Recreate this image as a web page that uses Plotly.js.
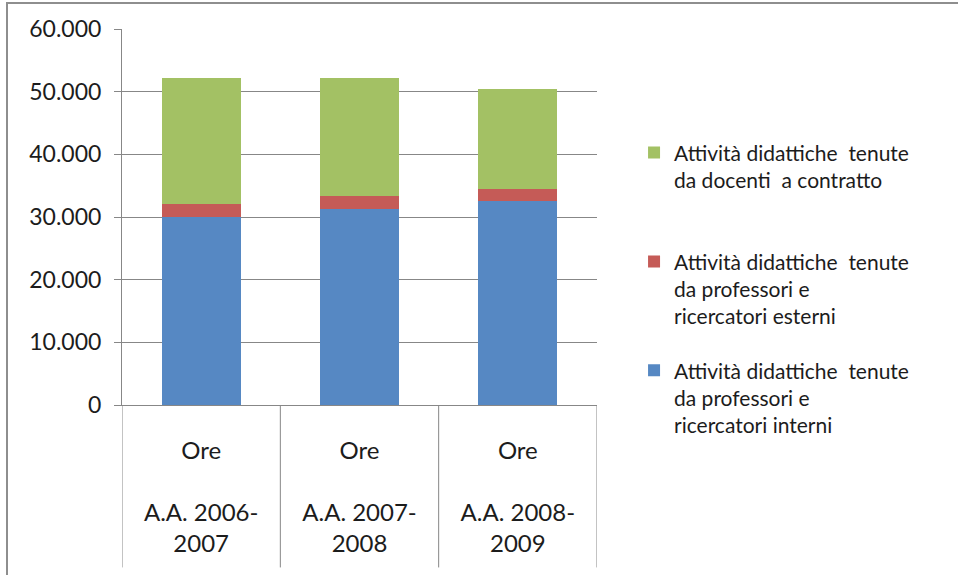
<!DOCTYPE html>
<html>
<head>
<meta charset="utf-8">
<script src="https://cdn.plot.ly/plotly-3.0.1.min.js"></script>
<style>
  html, body { margin: 0; padding: 0; background: #fff; }
  #wrap { position: relative; width: 958px; height: 575px; overflow: hidden; }
  #chart { position: absolute; left: 0; top: 0; width: 958px; height: 575px; }
  #frame { position: absolute; left: 6px; top: 2px; width: 960px; height: 580px;
           border-top: 2px solid #8e8e8e; border-left: 2px solid #8e8e8e; pointer-events: none; }
</style>
</head>
<body>
<div id="wrap">
  <div id="chart"></div>
  <div id="frame"></div>
</div>
<script>
// ---- data ----
const categories = ['A.A. 2006-2007', 'A.A. 2007-2008', 'A.A. 2008-2009'];
const measureLabel = 'Ore';
const periodLabels = ['A.A. 2006-<br>2007', 'A.A. 2007-<br>2008', 'A.A. 2008-<br>2009'];
const oreInterni = [30030, 31310, 32530];
const oreEsterni = [2080, 2020, 1870];
const oreContratto = [20050, 18830, 15950];
const nameInterni = 'Attività didattiche  tenute<br>da professori e<br>ricercatori interni';
const nameEsterni = 'Attività didattiche  tenute<br>da professori e<br>ricercatori esterni';
const nameContratto = 'Attività didattiche  tenute<br>da docenti  a contratto<br> ';
const yTicks = [0, 10000, 20000, 30000, 40000, 50000, 60000];

// ---- chart ----
const FONT = 'Lato, "Open Sans", sans-serif';
const TXT = '#1c1c1c';
const GRID = '#878787';

const tickText = categories.map((c, i) => measureLabel + '<br><br>' + periodLabels[i]);

const traces = [
  { type: 'bar', x: categories, y: oreInterni, name: nameInterni, legendgroup: 'c', legendrank: 3,
    marker: { color: '#5688c3' }, width: 0.5 },
  { type: 'bar', x: categories, y: oreEsterni, name: nameEsterni, legendgroup: 'b', legendrank: 2,
    marker: { color: '#c55b57' }, width: 0.5 },
  { type: 'bar', x: categories, y: oreContratto, name: nameContratto, legendgroup: 'a', legendrank: 1,
    marker: { color: '#a3c164' }, width: 0.5 }
];

const dividers = [-0.5, 0.5, 1.5, 2.5].map(xv => ({
  type: 'line', xref: 'x', yref: 'paper', x0: xv, x1: xv, y0: 0, y1: -0.432,
  line: { color: GRID, width: 1 }
}));

const layout = {
  width: 958, height: 575,
  margin: { l: 122, r: 361, t: 29, b: 170 },
  paper_bgcolor: '#fff', plot_bgcolor: '#fff',
  separators: ',.',
  barmode: 'stack',
  showlegend: true,
  font: { family: FONT, size: 23, color: TXT },
  legend: {
    x: 1.078, xanchor: 'left', y: 0.725, yanchor: 'top',
    traceorder: 'grouped', tracegroupgap: 24, valign: 'top',
    font: { family: FONT, size: 21, color: TXT },
    bgcolor: 'rgba(0,0,0,0)'
  },
  xaxis: {
    type: 'category', range: [-0.5, 2.5],
    tickmode: 'array', tickvals: categories, ticktext: tickText,
    ticks: '', showgrid: false, showline: true, linecolor: GRID, linewidth: 1,
    tickfont: { family: FONT, size: 24, color: TXT }, ticklabelstandoff: 24,
    fixedrange: true
  },
  yaxis: {
    range: [0, 60000], tickmode: 'array', tickvals: yTicks, tickformat: ',d',
    showgrid: true, gridcolor: GRID, gridwidth: 1,
    showline: true, linecolor: GRID, linewidth: 1,
    ticks: 'outside', ticklen: 7, tickcolor: GRID,
    tickfont: { family: FONT, size: 23, color: TXT }, ticklabelstandoff: 8,
    zeroline: false, fixedrange: true
  },
  shapes: dividers
};

Plotly.newPlot('chart', traces, layout, { displayModeBar: false, staticPlot: true });
</script>
</body>
</html>
